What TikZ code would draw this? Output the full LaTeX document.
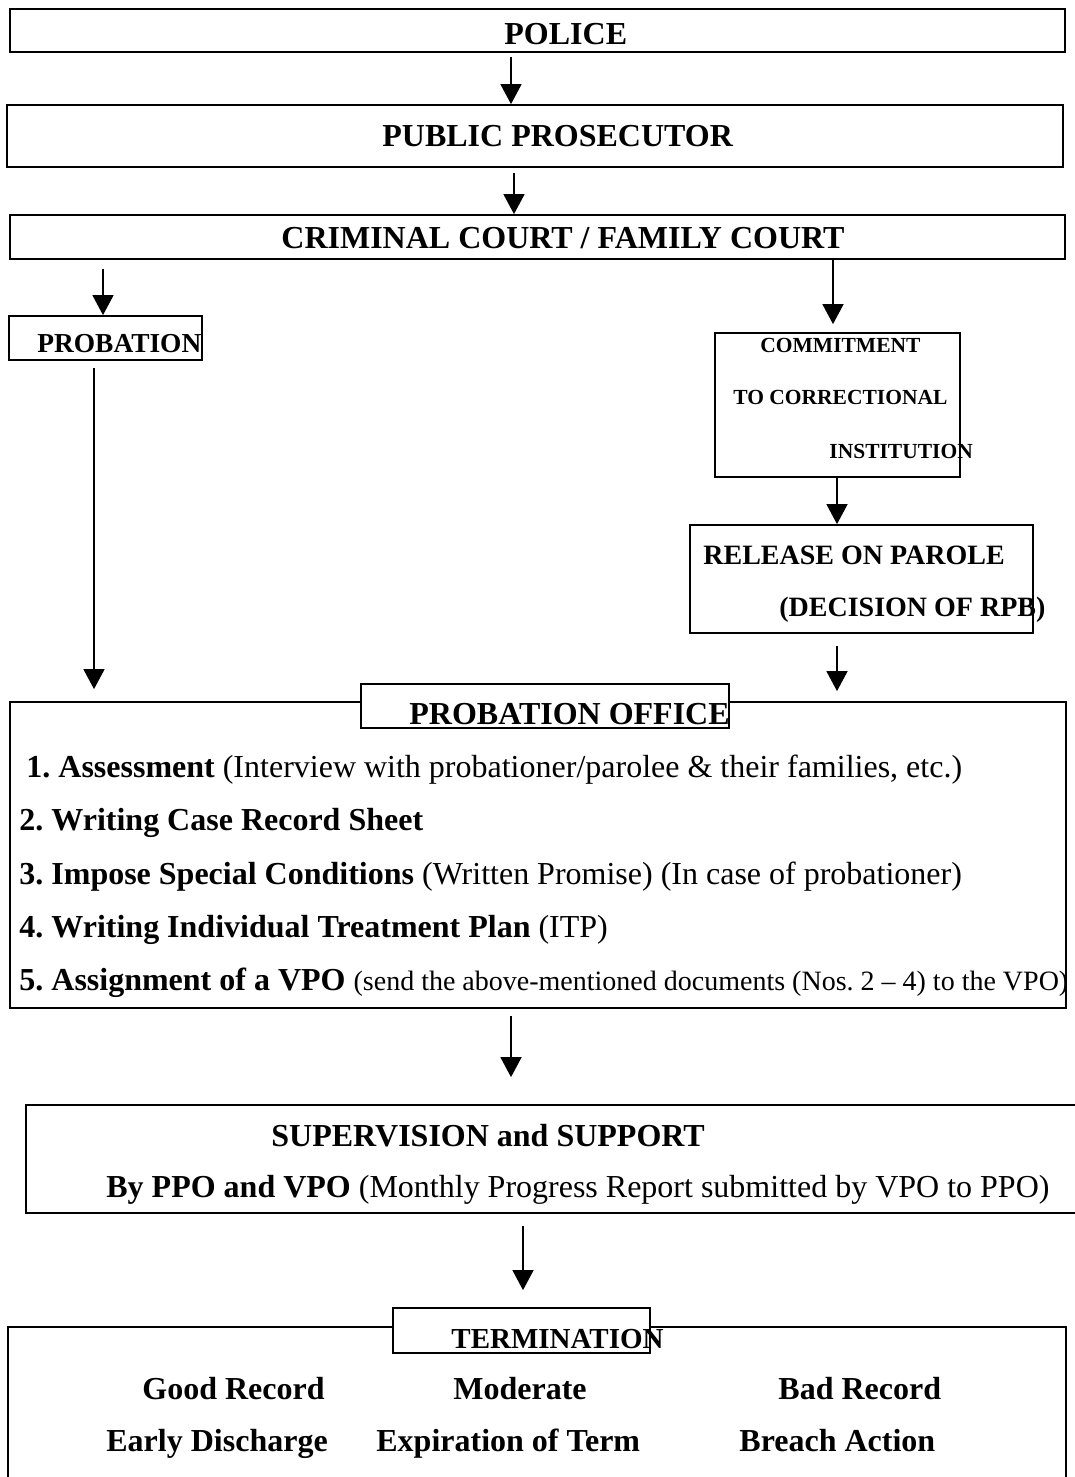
\documentclass[tikz,border=0pt]{standalone}
\usepackage{fontspec}
\setmainfont{Liberation Serif}
\usetikzlibrary{arrows.meta,fit,calc}
\frenchspacing
\begin{document}
\begin{tikzpicture}[x=0.5pt,y=-0.5pt,
  box/.style={draw,line width=0.9pt,inner sep=0pt},
  hbox/.style={box,fill=white},
  arr/.style={draw,line width=0.8pt,-{Triangle[width=10.5pt,length=10pt]}},
  txt/.style={anchor=base west,inner sep=0pt},
  big/.style={txt,font=\fontsize{16}{19}\selectfont\bfseries},
  bigr/.style={txt,font=\fontsize{16}{19}\selectfont},
  mid/.style={txt,font=\fontsize{14}{17}\selectfont\bfseries},
  sml/.style={txt,font=\fontsize{10.75}{13}\selectfont\bfseries}]
\clip (0,0) rectangle (1075,1477);
\fill[white] (0,0) rectangle (1075,1477);
% boxes
\node[box,fit={(10,9)(1065,52)}] (police) {};
\node[box,fit={(7,105)(1063,167)}] (pp) {};
\node[box,fit={(10,215)(1065,259)}] (court) {};
\node[box,fit={(9,316)(202,360)}] (prob) {};
\node[box,fit={(715,333)(960,477)}] (commit) {};
\node[box,fit={(690,525)(1033,633)}] (parole) {};
\node[box,fit={(10,702)(1066,1008)}] (office) {};
\node[hbox,fit={(361,684)(729,728)}] (officehd) {};
\node[box,fit={(26,1105)(1095,1213)}] (superv) {};
\node[box,fit={(8,1327)(1066,1500)}] (term) {};
\node[hbox,fit={(393,1308)(650,1353)}] (termhd) {};
% texts
\node[big] (tpolice) at (504,45) {POLICE};
\node[big] (tpp) at (382,147) {PUBLIC PROSECUTOR};
\node[big] (tcourt) at (281,248) {CRIMINAL COURT / FAMILY COURT};
\node[txt,font=\fontsize{13.7}{16}\selectfont\bfseries] (tprob) at (37,352) {PROBATION};
\node[sml] (tcom1) at (760,352) {COMMITMENT};
\node[sml] (tcom2) at (733,404) {TO CORRECTIONAL};
\node[sml] (tcom3) at (829,458) {INSTITUTION};
\node[mid] (tpar1) at (703,564) {RELEASE ON PAROLE};
\node[mid] (tpar2) at (779,616) {(DECISION OF RPB)};
\node[big] (toffice) at (409,724) {PROBATION OFFICE};
\node[bigr] (item1) at (26,777) {\textbf{1. Assessment} (Interview with probationer/parolee \& their families, etc.)};
\node[big] (item2) at (19,830) {2. Writing Case Record Sheet};
\node[bigr] (item3) at (19,884) {\textbf{3. Impose Special Conditions} (Written Promise) (In case of probationer)};
\node[bigr] (item4) at (19,937) {\textbf{4. Writing Individual Treatment Plan} (ITP)};
\node[bigr] (item5) at (19,990) {\textbf{5. Assignment of a VPO} {\fontsize{14}{17}\selectfont (send the above-mentioned documents (Nos. 2 -- 4) to the VPO)}};
\node[big] (tsup1) at (271,1146) {SUPERVISION and SUPPORT};
\node[bigr] (tsup2) at (106,1197) {\textbf{By PPO and VPO} (Monthly Progress Report submitted by VPO to PPO)};
\node[txt,font=\fontsize{14.5}{17}\selectfont\bfseries] (tterm) at (451,1348) {TERMINATION};
\node[big] (good) at (142,1399) {Good Record};
\node[big] (moder) at (453,1399) {Moderate};
\node[big] (bad) at (778,1399) {Bad Record};
\node[big] (early) at (106,1451) {Early Discharge};
\node[big] (expir) at (376,1451) {Expiration of Term};
\node[big] (breach) at (739,1451) {Breach Action};
% arrow columns
\coordinate (c1) at (511,0);
\coordinate (c2) at (514,0);
\coordinate (c3) at (103,0);
\coordinate (c4) at (833,0);
\coordinate (c5) at (837,0);
\coordinate (c7) at (94,0);
\coordinate (c9) at (523,0);
% arrows
\draw[arr,shorten <=2pt] (police.south -| c1) -- (pp.north -| c1);
\draw[arr,shorten <=2.5pt] (pp.south -| c2) -- (court.north -| c2);
\draw[arr,shorten <=4.5pt] (court.south -| c3) -- (prob.north -| c3);
\draw[arr,shorten >=4pt] (court.south -| c4) -- (commit.north -| c4);
\draw[arr] (commit.south -| c5) -- (parole.north -| c5);
\draw[arr,shorten <=6pt,shorten >=5pt] (parole.south -| c5) -- (office.north -| c5);
\draw[arr,shorten <=3.5pt,shorten >=6pt] (prob.south -| c7) -- (office.north -| c7);
\draw[arr,shorten <=3.5pt,shorten >=13.5pt] (office.south -| c1) -- (superv.north -| c1);
\draw[arr,shorten <=6pt,shorten >=8.5pt] (superv.south -| c9) -- (termhd.north -| c9);
\end{tikzpicture}
\end{document}
